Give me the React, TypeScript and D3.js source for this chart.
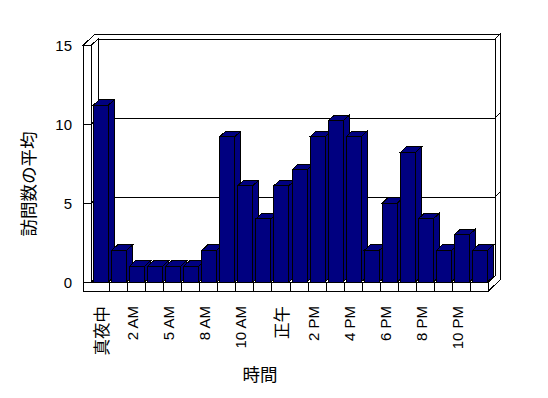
import React from "react";
import * as d3 from "d3";

const categories = [
  "真夜中", "1 AM", "2 AM", "3 AM", "5 AM", "6 AM", "8 AM", "9 AM", "10 AM", "11 AM",
  "正午", "1 PM", "2 PM", "3 PM", "4 PM", "5 PM", "6 PM", "7 PM", "8 PM", "9 PM", "10 PM", "11 PM",
];
const values = [11.2, 2, 1, 1, 1, 1, 2, 9.2, 6.1, 4, 6.1, 7.1, 9.2, 10.2, 9.2, 2, 5, 8.2, 4, 2, 3, 2];
const yTicks = [0, 5, 10, 15];
const gridValues = [5, 10];
const yTitle = "訪問数の平均";
const xTitle = "時間";

const W = 548, H = 398;
const X0 = 91.5, X1 = 488.5, Y0 = 282, YT = 45;
const D = { x: 6.5, y: -6 };   // floor depth
const T = { x: 5, y: -5 };     // back wall thickness
const WALL = 8, FLOOR = 9;
const BDX = 6, BDY = -5.5;     // bar depth
const NAVY = "#000080";
const LATIN = "'Liberation Sans', Arial, 'Noto Sans CJK JP', sans-serif";
const CJK = "'Noto Sans CJK JP', sans-serif";

const pts = (a: number[][]) => a.map((p) => p.join(",")).join(" ");

export default function App() {
  const x = d3.scaleBand<string>().domain(categories).range([X0, X1]).paddingInner(0).paddingOuter(0);
  const y = d3.scaleLinear().domain([0, 15]).range([Y0, YT]);
  const bw = x.bandwidth();
  const barW = 15;
  const s = { stroke: "#000", strokeWidth: 1, shapeRendering: "crispEdges" as const };

  const bx0 = X0 + D.x, bx1 = X1 + D.x;
  const byT = YT + D.y, byB = Y0 + D.y;

  return (
    <svg width={W} height={H} style={{ position: "absolute", left: 0, top: 0, background: "#fff" }}>
      <rect x={0} y={0} width={W} height={H} fill="#fff" />
      {/* back wall front face */}
      <rect x={bx0} y={byT} width={bx1 - bx0} height={byB - byT} fill="#fff" {...s} />
      {gridValues.map((v) => (
        <g key={"g" + v}>
          <line x1={bx0} x2={bx1} y1={y(v) + D.y} y2={y(v) + D.y} {...s} />
          <line x1={X0} x2={bx0} y1={y(v)} y2={y(v) + D.y} {...s} />
        </g>
      ))}
      {/* top of walls */}
      <polygon
        points={pts([
          [X0 - WALL, YT],
          [X0, YT],
          [bx0, byT],
          [bx1, byT],
          [bx1 + T.x, byT + T.y],
          [X0 - WALL + D.x + T.x, YT + D.y + T.y],
        ])}
        fill="#fff"
        {...s}
      />
      {/* left wall inner face */}
      <polygon points={pts([[X0, YT], [bx0, byT], [bx0, byB], [X0, Y0]])} fill="#fff" {...s} />
      {gridValues.map((v) => (
        <line key={"lg" + v} x1={X0} x2={bx0} y1={y(v)} y2={y(v) + D.y} {...s} />
      ))}
      {/* right end faces */}
      <polygon
        points={pts([
          [X1, Y0],
          [bx1, byB],
          [bx1, byT],
          [bx1 + T.x, byT + T.y],
          [X1 + D.x + T.x, Y0 + FLOOR + D.y + T.y],
          [X1, Y0 + FLOOR],
        ])}
        fill="#fff"
        {...s}
      />
      {gridValues.map((v) => (
        <line key={"rg" + v} x1={bx1} x2={bx1 + T.x} y1={y(v) + D.y} y2={y(v) + D.y + T.y} {...s} />
      ))}
      {/* floor top */}
      <polygon points={pts([[X0, Y0], [X1, Y0], [bx1, byB], [bx0, byB]])} fill="#fff" {...s} />
      {/* bars */}
      {categories.map((c, i) => {
        const x0 = (x(c) as number) + (bw - barW) / 2 + 0.5;
        const x1 = x0 + barW;
        const yt = y(values[i]);
        return (
          <g key={"b" + i}>
            <polygon points={pts([[x0, yt], [x1, yt], [x1 + BDX, yt + BDY], [x0 + BDX, yt + BDY]])} fill={NAVY} {...s} />
            <polygon points={pts([[x1, yt], [x1 + BDX, yt + BDY], [x1 + BDX, Y0 + BDY], [x1, Y0]])} fill={NAVY} {...s} />
            <rect x={x0} y={yt} width={barW} height={Y0 - yt} fill={NAVY} {...s} />
          </g>
        );
      })}
      {/* left wall front face */}
      <rect x={X0 - WALL} y={YT} width={WALL} height={Y0 - YT} fill="#fff" {...s} />
      {yTicks.map((v) => (
        <line key={"t" + v} x1={X0 - WALL} x2={X0} y1={y(v)} y2={y(v)} {...s} />
      ))}
      {/* floor front face */}
      <rect x={X0 - WALL} y={Y0} width={X1 - X0 + WALL} height={FLOOR} fill="#fff" {...s} />
      {categories.slice(1).map((c) => (
        <line key={"d" + c} x1={x(c) as number} x2={x(c) as number} y1={Y0} y2={Y0 + FLOOR} {...s} />
      ))}
      {/* y tick labels */}
      {yTicks.map((v) => (
        <text key={"yl" + v} x={72} y={y(v)} textAnchor="end" dominantBaseline="central" fontFamily={LATIN} fontSize={15} fill="#000">
          {v}
        </text>
      ))}
      {/* category labels */}
      {categories.map((c, i) => {
        if (i % 2 !== 0) return null;
        const cx = (x(c) as number) + bw / 2;
        const latin = /[A-Za-z0-9]/.test(c);
        const bx = latin ? cx + 1.6 : cx + 7;
        return (
          <text
            key={"cl" + i}
            transform={`translate(${bx},306) rotate(-90)`}
            textAnchor="end"
            fontFamily={latin ? LATIN : CJK}
            fontSize={latin ? 15 : 16.5}
            fill="#000"
          >
            {c}
          </text>
        );
      })}
      {/* axis titles */}
      <text transform={`translate(35,184) rotate(-90)`} textAnchor="middle" fontFamily={CJK} fontSize={17.5} fill="#000">
        {yTitle}
      </text>
      <text x={260} y={381} textAnchor="middle" fontFamily={CJK} fontSize={17.5} fill="#000">
        {xTitle}
      </text>
    </svg>
  );
}
